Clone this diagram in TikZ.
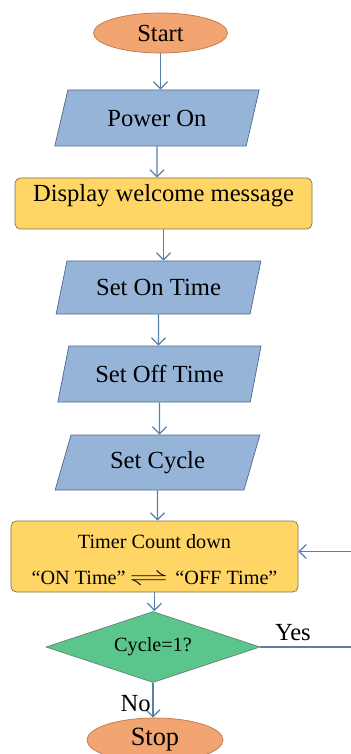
\documentclass[tikz,border=0pt]{standalone}
\usepackage{fontspec}
\usepackage{mathtools}
\usepackage{tikz}
\setmainfont{Liberation Serif}
\usetikzlibrary{shapes.geometric,arrows.meta}
\definecolor{termfill}{RGB}{242,165,112}
\definecolor{termline}{RGB}{190,118,78}
\definecolor{iofill}{RGB}{150,180,216}
\definecolor{ioline}{RGB}{78,104,145}
\definecolor{procfill}{RGB}{255,214,102}
\definecolor{procline}{RGB}{128,112,80}
\definecolor{testfill}{RGB}{90,198,140}
\definecolor{testline}{RGB}{105,128,118}
\definecolor{flowline}{RGB}{88,128,170}
\def\bigtxt{\fontsize{14}{16}\selectfont}
\def\smalltxt{\fontsize{11.5}{13.5}\selectfont}

\begin{document}
\begin{tikzpicture}
      \tikzset{every node/.style={align=center},
        term/.style={ellipse,draw=termline,fill=termfill,inner sep=0pt,font=\bigtxt},
        io/.style={trapezium,trapezium left angle=74,trapezium right angle=106,
          trapezium stretches=true,minimum width=4.1cm,draw=ioline,fill=iofill,font=\bigtxt},
        proc/.style={rectangle,rounded corners=3pt,draw=procline,fill=procfill},
        test/.style={diamond,shape aspect=3,draw=testline,fill=testfill,inner sep=0pt,font=\smalltxt},
        flow/.style={-{Straight Barb[length=4pt,width=8pt]},draw=flowline,line width=0.7pt}}
      \useasboundingbox (0,0) rectangle (7,-15.08);
      \node[term,minimum width=2.68cm,minimum height=0.8cm] (start) at (3.21,-0.66) {Start};
      \node[io,minimum height=1.12cm] (power) at (3.14,-2.36) {Power On};
      \node[proc,minimum width=5.94cm,minimum height=1.02cm,font=\bigtxt,text depth=12pt] (welcome) at (3.27,-4.07) {Display welcome message};
      \node[io,minimum height=1.06cm] (ontime) at (3.17,-5.75) {Set On Time};
      \node[io,minimum height=1.12cm] (offtime) at (3.19,-7.48) {Set Off Time};
      \node[io,minimum height=1.1cm] (cycles) at (3.15,-9.25) {Set Cycle};
      \node[proc,minimum width=5.74cm,minimum height=1.42cm,inner sep=1pt,font=\smalltxt] (timer) at (3.09,-11.13)
        {\rule{0pt}{12pt}Timer Count down\\[7pt] “ON Time”\hspace{2pt}\scalebox{1.9}[1]{$\rightleftharpoons$}\hspace{4pt}“OFF Time”};
      \node[test,minimum width=4.28cm,minimum height=1.42cm] (check) at (3.06,-12.94) {Cycle=1?};
      \node[term,minimum width=2.72cm,minimum height=0.88cm,font=\fontsize{15}{17}\selectfont] (stop) at (3.10,-14.80) {Stop};
      \draw[flow] (start) -- (start |- power.north);
      \draw[flow] (power) -- (power |- welcome.north);
      \draw[flow] (welcome) -- (welcome |- ontime.north);
      \draw[flow] (ontime) -- (ontime |- offtime.north);
      \draw[flow] (offtime) -- (offtime |- cycles.north);
      \draw[flow] (cycles) -- (cycles |- timer.north);
      \draw[flow] (timer) -- (timer |- check.north);
      \draw[flow] (check) -- node[left,pos=0.6,inner sep=1pt,font=\bigtxt]{No} (check |- stop.north);
      \draw[flow] (check.east) -- node[above,pos=0.31,font=\bigtxt]{Yes} ++(2.1,0) |- ([yshift=1mm]timer.east);
    \end{tikzpicture}
\end{document}
